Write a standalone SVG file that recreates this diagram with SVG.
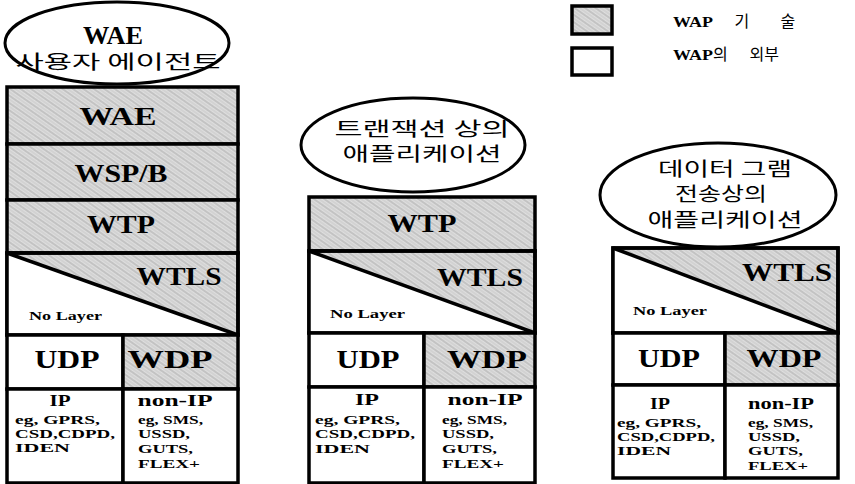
<svg xmlns="http://www.w3.org/2000/svg" width="855" height="484" viewBox="0 0 855 484">
<defs>
<pattern id="hatch" width="6" height="6" patternUnits="userSpaceOnUse" patternTransform="rotate(35)">
<rect width="6" height="6" fill="#dedede"/>
<line x1="0" y1="1" x2="6" y2="1" stroke="#a8a8a8" stroke-width="1"/>
<line x1="0" y1="4" x2="6" y2="4" stroke="#c0c0c0" stroke-width="0.8"/>
</pattern>
<style>
.box{stroke:#000;stroke-width:3.5;}
.sh{fill:url(#hatch);}
.wh{fill:#fff;}
.ln{stroke:#000;stroke-width:3.5;fill:none;}
.ell{fill:#fff;stroke:#000;stroke-width:3;}
.big{font-family:"Liberation Serif","Times New Roman",serif;font-weight:bold;font-size:25px;text-anchor:middle;fill:#000;}
.mid{font-family:"Liberation Serif","Times New Roman",serif;font-weight:bold;font-size:16px;text-anchor:middle;fill:#000;}
.sm{font-family:"Liberation Serif","Times New Roman",serif;font-weight:bold;font-size:13px;fill:#000;}
.ko{font-family:"Noto Sans CJK KR","Noto Sans",sans-serif;font-size:19px;text-anchor:middle;fill:#000;}
.leg{font-family:"Liberation Serif","Times New Roman",serif;font-weight:bold;font-size:15px;fill:#000;}
.legk{font-family:"Noto Sans CJK KR",sans-serif;font-weight:normal;font-size:16px;}
</style>
</defs>

<g id="legend">
<rect x="572" y="6" width="40" height="28" class="box sh"/>
<rect x="572" y="48" width="40" height="27" class="box wh"/>
<text x="673" y="27" class="leg"><tspan textLength="40" lengthAdjust="spacingAndGlyphs">WAP</tspan><tspan class="legk" x="731"> 기</tspan><tspan class="legk" x="777"> 술</tspan></text>
<text x="673" y="60" class="leg"><tspan textLength="40" lengthAdjust="spacingAndGlyphs">WAP</tspan><tspan class="legk" x="713">의</tspan><tspan class="legk" x="746"> 외부</tspan></text>
</g>

<!-- Left stack -->
<g id="left-agent">
<ellipse cx="117" cy="43" rx="112" ry="41" class="ell"/>
<text x="113" y="44" class="big" font-size="23" textLength="60" lengthAdjust="spacingAndGlyphs">WAE</text>
<text x="118" y="69" class="ko" font-size="22" textLength="205" lengthAdjust="spacingAndGlyphs">사용자 에이전트</text>
</g>
<g id="left-wae"><rect x="7" y="87" width="231" height="57" class="box sh"/><text x="118" y="125" class="big" textLength="77" lengthAdjust="spacingAndGlyphs">WAE</text></g>
<g id="left-wsp"><rect x="7" y="144" width="231" height="56" class="box sh"/><text x="121" y="182" class="big" textLength="93" lengthAdjust="spacingAndGlyphs">WSP/B</text></g>
<g id="left-wtp"><rect x="7" y="200" width="231" height="53" class="box sh"/><text x="121" y="233" class="big" textLength="68" lengthAdjust="spacingAndGlyphs">WTP</text></g>
<g id="left-wtls">
<rect x="7" y="253" width="231" height="82" class="box sh"/>
<polygon points="7,253 238,335 7,335" class="wh"/>
<rect x="7" y="253" width="231" height="82" class="ln"/>
<line x1="7" y1="253" x2="238" y2="335" class="ln"/>
<text x="179" y="285" class="big" textLength="85" lengthAdjust="spacingAndGlyphs">WTLS</text>
<text x="29" y="320" class="sm" textLength="73" lengthAdjust="spacingAndGlyphs">No Layer</text>
</g>
<g id="left-udp"><rect x="7" y="335" width="116" height="54" class="box wh"/><text x="67" y="368" class="big" textLength="65" lengthAdjust="spacingAndGlyphs">UDP</text></g>
<g id="left-wdp"><rect x="123" y="335" width="115" height="54" class="box sh"/><text x="170" y="368" class="big" textLength="85" lengthAdjust="spacingAndGlyphs">WDP</text></g>
<g id="left-ip"><rect x="7" y="389" width="116" height="94" class="box wh"/>
<text x="60" y="406" class="mid" textLength="21" lengthAdjust="spacingAndGlyphs">IP</text>
<text x="15" y="424" class="sm" textLength="85" lengthAdjust="spacingAndGlyphs">eg, GPRS,</text>
<text x="15" y="438" class="sm" textLength="100" lengthAdjust="spacingAndGlyphs">CSD,CDPD,</text>
<text x="15" y="452" class="sm" textLength="55" lengthAdjust="spacingAndGlyphs">IDEN</text></g>
<g id="left-nonip"><rect x="123" y="389" width="115" height="94" class="box wh"/>
<text x="175" y="406" class="mid" textLength="75" lengthAdjust="spacingAndGlyphs">non-IP</text>
<text x="138" y="424" class="sm" textLength="65" lengthAdjust="spacingAndGlyphs">eg, SMS,</text>
<text x="138" y="438" class="sm" textLength="52" lengthAdjust="spacingAndGlyphs">USSD,</text>
<text x="138" y="453" class="sm" textLength="55" lengthAdjust="spacingAndGlyphs">GUTS,</text>
<text x="138" y="468" class="sm" textLength="62" lengthAdjust="spacingAndGlyphs">FLEX+</text></g>

<!-- Middle stack -->
<g id="mid-app">
<ellipse cx="413" cy="145" rx="112" ry="47" class="ell"/>
<text x="422" y="136" class="ko" textLength="175" lengthAdjust="spacingAndGlyphs">트랜잭션 상의</text>
<text x="422" y="161" class="ko" textLength="159" lengthAdjust="spacingAndGlyphs">애플리케이션</text>
</g>
<g id="mid-wtp"><rect x="309" y="197" width="226" height="54" class="box sh"/><text x="422" y="232" class="big" textLength="69" lengthAdjust="spacingAndGlyphs">WTP</text></g>
<g id="mid-wtls">
<rect x="309" y="251" width="226" height="82" class="box sh"/>
<polygon points="309,251 535,333 309,333" class="wh"/>
<rect x="309" y="251" width="226" height="82" class="ln"/>
<line x1="309" y1="251" x2="535" y2="333" class="ln"/>
<text x="480" y="286" class="big" textLength="86" lengthAdjust="spacingAndGlyphs">WTLS</text>
<text x="330" y="318" class="sm" textLength="75" lengthAdjust="spacingAndGlyphs">No Layer</text>
</g>
<g id="mid-udp"><rect x="309" y="333" width="115" height="54" class="box wh"/><text x="368" y="368" class="big" textLength="63" lengthAdjust="spacingAndGlyphs">UDP</text></g>
<g id="mid-wdp"><rect x="424" y="333" width="111" height="54" class="box sh"/><text x="487" y="368" class="big" textLength="80" lengthAdjust="spacingAndGlyphs">WDP</text></g>
<g id="mid-ip"><rect x="309" y="387" width="115" height="96" class="box wh"/>
<text x="367" y="405" class="mid" textLength="24" lengthAdjust="spacingAndGlyphs">IP</text>
<text x="315" y="424" class="sm" textLength="85" lengthAdjust="spacingAndGlyphs">eg, GPRS,</text>
<text x="315" y="438" class="sm" textLength="100" lengthAdjust="spacingAndGlyphs">CSD,CDPD,</text>
<text x="315" y="453" class="sm" textLength="55" lengthAdjust="spacingAndGlyphs">IDEN</text></g>
<g id="mid-nonip"><rect x="424" y="387" width="111" height="96" class="box wh"/>
<text x="485" y="405" class="mid" textLength="75" lengthAdjust="spacingAndGlyphs">non-IP</text>
<text x="442" y="424" class="sm" textLength="65" lengthAdjust="spacingAndGlyphs">eg, SMS,</text>
<text x="442" y="438" class="sm" textLength="52" lengthAdjust="spacingAndGlyphs">USSD,</text>
<text x="442" y="453" class="sm" textLength="55" lengthAdjust="spacingAndGlyphs">GUTS,</text>
<text x="442" y="468" class="sm" textLength="62" lengthAdjust="spacingAndGlyphs">FLEX+</text></g>

<!-- Right stack -->
<g id="right-app">
<ellipse cx="718" cy="195" rx="118" ry="52" class="ell"/>
<text x="725" y="176" class="ko" textLength="134" lengthAdjust="spacingAndGlyphs">데이터 그램</text>
<text x="721" y="201" class="ko" textLength="92" lengthAdjust="spacingAndGlyphs">전송상의</text>
<text x="725" y="227" class="ko" textLength="155" lengthAdjust="spacingAndGlyphs">애플리케이션</text>
</g>
<g id="right-wtls">
<rect x="613" y="248" width="225" height="85" class="box sh"/>
<polygon points="613,248 838,333 613,333" class="wh"/>
<rect x="613" y="248" width="225" height="85" class="ln"/>
<line x1="613" y1="248" x2="838" y2="333" class="ln"/>
<text x="787" y="281" class="big" textLength="90" lengthAdjust="spacingAndGlyphs">WTLS</text>
<text x="633" y="315" class="sm" textLength="74" lengthAdjust="spacingAndGlyphs">No Layer</text>
</g>
<g id="right-udp"><rect x="613" y="333" width="112" height="52" class="box wh"/><text x="669" y="367" class="big" textLength="62" lengthAdjust="spacingAndGlyphs">UDP</text></g>
<g id="right-wdp"><rect x="725" y="333" width="113" height="52" class="box sh"/><text x="784" y="367" class="big" textLength="75" lengthAdjust="spacingAndGlyphs">WDP</text></g>
<g id="right-ip"><rect x="613" y="385" width="112" height="93" class="box wh"/>
<text x="660" y="409" class="mid" textLength="20" lengthAdjust="spacingAndGlyphs">IP</text>
<text x="617" y="427" class="sm" textLength="84" lengthAdjust="spacingAndGlyphs">eg, GPRS,</text>
<text x="617" y="441" class="sm" textLength="98" lengthAdjust="spacingAndGlyphs">CSD,CDPD,</text>
<text x="617" y="455" class="sm" textLength="54" lengthAdjust="spacingAndGlyphs">IDEN</text></g>
<g id="right-nonip"><rect x="725" y="385" width="113" height="93" class="box wh"/>
<text x="781" y="409" class="mid" textLength="66" lengthAdjust="spacingAndGlyphs">non-IP</text>
<text x="748" y="427" class="sm" textLength="65" lengthAdjust="spacingAndGlyphs">eg, SMS,</text>
<text x="748" y="441" class="sm" textLength="52" lengthAdjust="spacingAndGlyphs">USSD,</text>
<text x="748" y="455" class="sm" textLength="55" lengthAdjust="spacingAndGlyphs">GUTS,</text>
<text x="748" y="470" class="sm" textLength="60" lengthAdjust="spacingAndGlyphs">FLEX+</text></g>

<g id="connectors"></g>
</svg>
